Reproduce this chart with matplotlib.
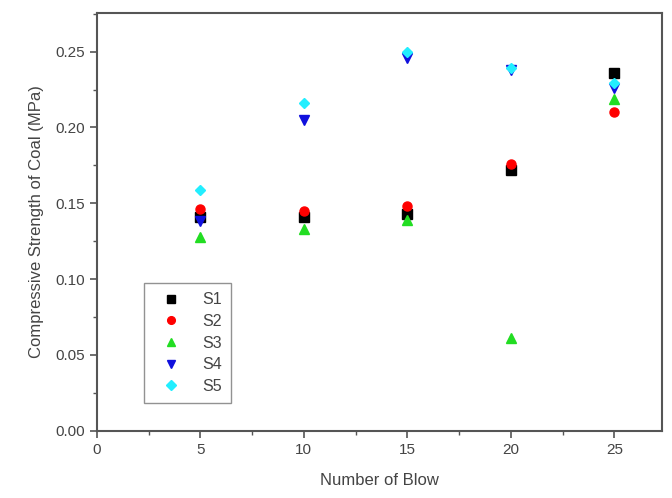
import matplotlib
matplotlib.use("Agg")
import matplotlib.pyplot as plt
from matplotlib.ticker import MultipleLocator

plt.rcParams['font.family'] = ['Liberation Sans', 'DejaVu Sans']

blows = [5, 10, 15, 20, 25]
s1 = [0.141, 0.141, 0.143, 0.172, 0.236]
s2 = [0.146, 0.145, 0.148, 0.176, 0.210]
s3 = [0.128, 0.133, 0.139, 0.061, 0.219]
s4 = [0.138, 0.205, 0.246, 0.238, 0.226]
s5 = [0.159, 0.216, 0.250, 0.239, 0.229]

series = [
    ("S1", s1, "s", "black"),
    ("S2", s2, "o", "red"),
    ("S3", s3, "^", "#22dd22"),
    ("S4", s4, "v", "#1010dd"),
    ("S5", s5, "D", "#22eeff"),
]

fig = plt.figure(figsize=(6.72, 4.98), dpi=100)
ax = fig.add_axes([0.144, 0.135, 0.841, 0.839])

for name, vals, mk, col in series:
    ms = 5.5 if mk == "D" else 6.5
    ax.plot(blows, vals, linestyle="none", marker=mk, color=col, markersize=ms, label=name)

ax.set_xlim(0, 27.3)
ax.set_ylim(0, 0.2755)
ax.xaxis.set_major_locator(MultipleLocator(5))
ax.xaxis.set_minor_locator(MultipleLocator(2.5))
ax.yaxis.set_major_locator(MultipleLocator(0.05))
ax.yaxis.set_minor_locator(MultipleLocator(0.025))
ax.yaxis.set_major_formatter(plt.FormatStrFormatter("%.2f"))

txt = "#444444"
for sp in ax.spines.values():
    sp.set_color("#555555")
    sp.set_linewidth(1.5)
ax.tick_params(which="major", direction="out", length=5, width=1.2, colors="#555555",
               labelcolor=txt, labelsize=11)
ax.tick_params(which="minor", direction="out", length=3, width=1.0, colors="#555555")

ax.set_xlabel("Number of Blow", fontsize=12, color=txt, labelpad=12)
ax.set_ylabel("Compressive Strength of Coal (MPa)", fontsize=12, color=txt, labelpad=8)

leg = ax.legend(loc="lower left", bbox_to_anchor=(0.083, 0.067), fontsize=11.5,
                frameon=True, fancybox=False, handletextpad=0.8, borderpad=0.55,
                labelspacing=0.42, handlelength=2.3, markerscale=0.85,
                borderaxespad=0)
leg.get_frame().set_edgecolor("#777777")
leg.get_frame().set_linewidth(1.0)
for t in leg.get_texts():
    t.set_color(txt)

fig.savefig("out.png", dpi=100)
